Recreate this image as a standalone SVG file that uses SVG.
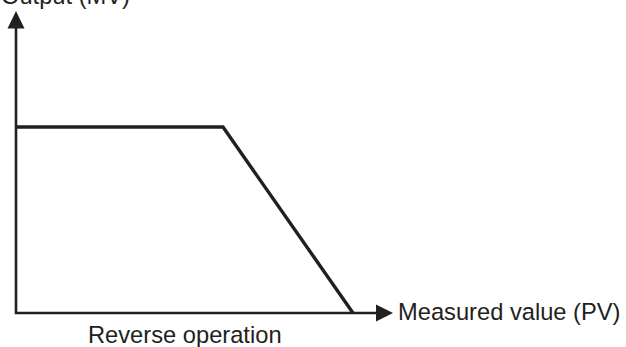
<svg xmlns="http://www.w3.org/2000/svg" width="626" height="347" viewBox="0 0 626 347">
<style>
text{font-family:"Liberation Sans",Arial,sans-serif;font-size:23.7px;fill:#231f20}
.ax{stroke:#231f20;stroke-width:2.6;fill:none}
.cv{stroke:#231f20;stroke-width:3.4;fill:none;stroke-linejoin:miter}
</style>
<g id="axes">
<path class="ax" d="M16,28 V313 H377"/>
<polygon points="16,11 7.5,28.5 24.5,28.5" fill="#231f20"/>
<polygon points="393,313 376,304.5 376,321.5" fill="#231f20"/>
</g>
<g id="curve">
<path class="cv" d="M16,127 H223 L353,313"/>
</g>
<g id="labels">
<text x="1" y="3.5">Output (MV)</text>
<text x="398" y="319.5">Measured value (PV)</text>
<text x="88" y="343">Reverse operation</text>
</g>
</svg>
